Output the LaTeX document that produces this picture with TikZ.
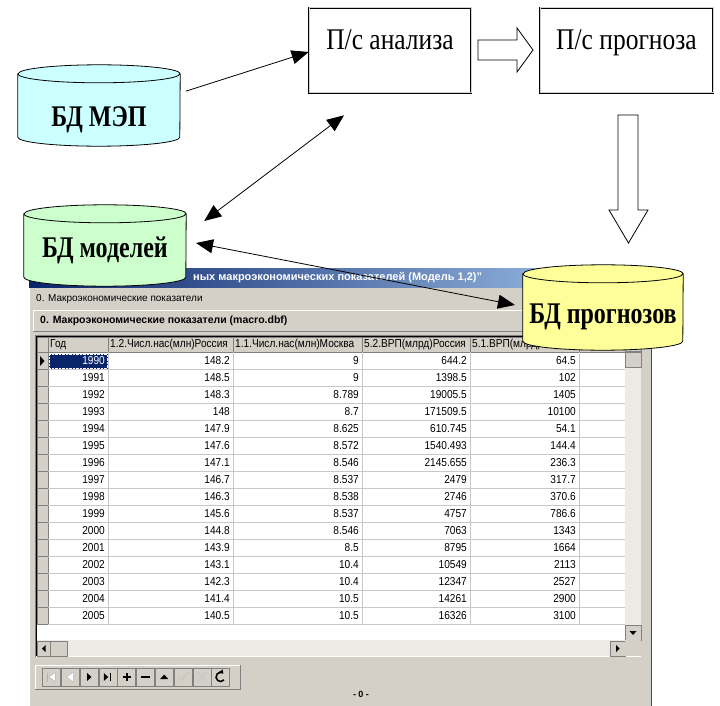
\documentclass[tikz,border=0pt]{standalone}
\usepackage{fontspec}
\setmainfont{Liberation Sans}
\newfontfamily\boxfont[FakeStretch=0.85]{Liberation Serif}
\newfontfamily\dbfont[FakeStretch=0.8]{Liberation Serif}
\newfontfamily\gridfont[FakeStretch=0.88]{Liberation Sans}
\usetikzlibrary{arrows.meta,calc}

\definecolor{wingray}{HTML}{D4D0C8}
\definecolor{winshadow}{HTML}{808080}
\definecolor{seldark}{HTML}{0A246A}
\definecolor{titlelight}{HTML}{A6CAF0}
\definecolor{gridline}{HTML}{C8C8C8}
\definecolor{trough}{HTML}{ECEAE5}
\definecolor{mepfill}{HTML}{CCFFFF}
\definecolor{modfill}{HTML}{CCFFCC}
\definecolor{progfill}{HTML}{FFFF99}

\pgfdeclarelayer{screen}
\pgfdeclarelayer{shapes}
\pgfsetlayers{screen,shapes,main}

% cylinder drawn behind node #1, half width #3
\newcommand\dbcyl[3]{%
  \begin{pgfonlayer}{shapes}
  \path[draw=black, line width=0.8pt, fill=#2]
    ([yshift=-9pt]#1.north west) -- ([yshift=9pt]#1.south west)
      arc[start angle=180, end angle=360, x radius=#3pt, y radius=9pt]
      -- ([yshift=-9pt]#1.north east)
      arc[start angle=0, end angle=180, x radius=#3pt, y radius=9pt] -- cycle
    ([yshift=-9pt]#1.north west)
      arc[start angle=180, end angle=360, x radius=#3pt, y radius=9pt];
  \end{pgfonlayer}}

\begin{document}
\begin{tikzpicture}
      [ x=1pt, y=-1pt
      , boxnode/.style={draw, line width=0.7pt, double=gray!35, double distance=1pt,
          minimum width=162pt, minimum height=85pt, inner sep=0pt,
          font=\boxfont\fontsize{30}{30}\selectfont, text height=24pt, text depth=25pt}
      , dbnode/.style={inner sep=0pt, text depth=0pt,
          font=\dbfont\bfseries\fontsize{30}{30}\selectfont}
      , link/.style={draw, line width=0.8pt, -{Triangle[length=17pt, width=14pt]}}
      , dlink/.style={draw, line width=0.8pt,
          {Triangle[length=17pt, width=14pt]}-{Triangle[length=17pt, width=14pt]}}
      , hollow/.style={draw, line width=0.8pt, fill=white}
      , raised/.style={fill=wingray, draw=winshadow, line width=0.5pt}
      , cell/.style={anchor=east, inner sep=0pt, font=\gridfont\fontsize{11.5}{12}\selectfont}
      , headcell/.style={anchor=west, inner sep=0pt, font=\gridfont\fontsize{11.5}{12}\selectfont}
      , tbtn/.style={raised, minimum width=18pt, minimum height=18pt, inner sep=0pt}
      ]
    \useasboundingbox (0,0) rectangle (720,706);

    \begin{pgfonlayer}{screen}
    \fill[white] (0,0) rectangle (720,706);
    % window
    \fill[wingray] (29,268) rectangle (651,706);
    \draw[black!70, line width=1pt] (651,268) -- (651,706);
    \draw[white] (29.5,287) -- (29.5,706);
    \shade[left color=seldark, right color=titlelight] (29,268) rectangle (651,287);
    \node[anchor=west, inner sep=0pt, text=white, font=\bfseries\fontsize{11}{12}\selectfont]
      (ttl) at (193,278) {ных макроэкономических показателей (Модель 1,2)"};
    \node[anchor=west, inner sep=0pt, font=\fontsize{10}{12}\selectfont]
      (sub) at (36,299) {0. Макроэкономические показатели};

    \fill[wingray] (33,310) rectangle (643,331);
    \draw[white] (33,331) -- (33,310) -- (643,310);
    \draw[winshadow] (33,331) -- (643,331) -- (643,310);
    \node[anchor=west, inner sep=0pt, font=\bfseries\fontsize{10.5}{12}\selectfont]
      (pan) at (40,320.5) {0. Макроэкономические показатели (macro.dbf)};

    % grid
    \fill[white] (35,335) rectangle (641,657);
    \draw[winshadow] (35,657) -- (35,335) -- (641,335);
    \draw[black] (36,656) -- (36,336) -- (640,336);
    \foreach \ga/\gb in {37/48,48/108,108/233,233/362,362/470,470/579,579/625}
      \draw[raised] (\ga,337) rectangle (\gb,352);
    \foreach \hx/\htxt [count=\k] in {50/Год,110/1.2.Числ.нас(млн)Россия,
        235/1.1.Числ.нас(млн)Москва,364/5.2.ВРП(млрд)Россия,472/5.1.ВРП(млрд)}
      \node[headcell] (h\k) at (\hx,344.5) {\htxt};
    \foreach \k in {0,...,15}
      \draw[raised] (37,352.5+17*\k) rectangle (48,369.5+17*\k);
    \foreach \k in {1,...,16}
      \draw[gridline] (48,352.5+17*\k) -- (625,352.5+17*\k);
    \foreach \gx in {108,233,362,470,579}
      \draw[gridline] (\gx,352) -- (\gx,624.5);
    \fill (40,356) -- (44.5,361) -- (40,366) -- cycle;
    \fill[seldark] (49,353.5) rectangle (107.5,369);
    \draw[white, densely dotted] (49.5,354) rectangle (107,368.5);

    \foreach \yr/\pa/\pb/\pc/\pd [count=\i from 0] in {
        1990/148.2/9/644.2/64.5, 1991/148.5/9/1398.5/102,
        1992/148.3/8.789/19005.5/1405, 1993/148/8.7/171509.5/10100,
        1994/147.9/8.625/610.745/54.1, 1995/147.6/8.572/1540.493/144.4,
        1996/147.1/8.546/2145.655/236.3, 1997/146.7/8.537/2479/317.7,
        1998/146.3/8.538/2746/370.6, 1999/145.6/8.537/4757/786.6,
        2000/144.8/8.546/7063/1343, 2001/143.9/8.5/8795/1664,
        2002/143.1/10.4/10549/2113, 2003/142.3/10.4/12347/2527,
        2004/141.4/10.5/14261/2900, 2005/140.5/10.5/16326/3100}
    {
      \node[cell] (yr\i) at (105,361+17*\i) {\ifnum\i=0 \color{white}\fi\yr};
      \node[cell] (pa\i) at (230,361+17*\i) {\pa};
      \node[cell] (pb\i) at (359,361+17*\i) {\pb};
      \node[cell] (pc\i) at (467,361+17*\i) {\pc};
      \node[cell] (pd\i) at (576,361+17*\i) {\pd};
    }

    % scroll bars
    \fill[trough] (625,337) rectangle (641,640);
    \draw[raised] (625,337) rectangle (641,351);
    \draw[raised] (625,352) rectangle (641,367);
    \draw[raised] (625,625) rectangle (641,640);
    \fill (629.5,631) -- (636.5,631) -- (633,635) -- cycle;
    \fill[trough] (37,640) rectangle (625,656);
    \draw[raised] (37,641) rectangle (50,656);
    \fill (45.5,645) -- (45.5,652) -- (42,648.5) -- cycle;
    \draw[raised] (50,641) rectangle (67,656);
    \draw[raised] (610,641) rectangle (625,656);
    \fill (616,645) -- (616,652) -- (619.5,648.5) -- cycle;
    \fill[wingray] (625,640) rectangle (641,656);

    % navigator
    \fill[wingray] (35,665) rectangle (240,689);
    \draw[white] (35,689) -- (35,665) -- (240,665);
    \draw[winshadow] (35,689) -- (240,689) -- (240,665);
    \foreach \i in {1,...,10}
      \node[tbtn] (b\i) at ({42+18.8*(\i-0.5)},677) {};
    \draw[gray!60, line width=1pt] ([shift={(-4,-4.5)}]b1.center) -- ([shift={(-4,4.5)}]b1.center);
    \draw[gray!60, fill=white] ([shift={(4,-4.5)}]b1.center) -- ([shift={(-2.5,0)}]b1.center)
      -- ([shift={(4,4.5)}]b1.center) -- cycle;
    \draw[gray!60, fill=white] ([shift={(3,-5)}]b2.center) -- ([shift={(-3.5,0)}]b2.center)
      -- ([shift={(3,5)}]b2.center) -- cycle;
    \fill ([shift={(-2,-4)}]b3.center) -- ([shift={(2.5,0)}]b3.center) -- ([shift={(-2,4)}]b3.center) -- cycle;
    \fill ([shift={(-4,-4)}]b4.center) -- ([shift={(0.5,0)}]b4.center) -- ([shift={(-4,4)}]b4.center) -- cycle;
    \draw[line width=1.5pt] ([shift={(2.5,-4)}]b4.center) -- ([shift={(2.5,4)}]b4.center);
    \draw[line width=2pt] ([shift={(-4,0)}]b5.center) -- ([shift={(4,0)}]b5.center)
      ([shift={(0,-4)}]b5.center) -- ([shift={(0,4)}]b5.center);
    \draw[line width=2pt] ([shift={(-4.5,0)}]b6.center) -- ([shift={(4.5,0)}]b6.center);
    \fill ([shift={(-4,2)}]b7.center) -- ([shift={(0,-2.5)}]b7.center) -- ([shift={(4,2)}]b7.center) -- cycle;
    \draw[gray!45, line width=1pt] ([shift={(-5,0)}]b8.center) -- ([shift={(-2,4)}]b8.center)
      -- ([shift={(5,-5)}]b8.center);
    \draw[gray!45, line width=1pt] ([shift={(-4,-5)}]b9.center) -- ([shift={(4,5)}]b9.center)
      ([shift={(4,-5)}]b9.center) -- ([shift={(-4,5)}]b9.center);
    \draw[line width=1.6pt, -{Triangle[length=3.5pt, width=5pt]}] ([shift={(3.4,2.9)}]b10.center)
      arc[start angle=-40, end angle=-310, radius=4.5pt];
    \node[inner sep=0pt, font=\bfseries\fontsize{9}{10}\selectfont] (pg) at (361,694) {- 0 -};
    \end{pgfonlayer}

    % diagram
    \node[boxnode] (an) at (390,50.5) {П/с анализа};
    \node[boxnode, minimum width=173pt] (pr) at (626.5,50.5) {П/с прогноза};

    \node[dbnode, minimum width=162pt, minimum height=81pt, text height=43pt]
      (mep) at (99,105.5) {БД МЭП\hspace{16pt}};
    \node[dbnode, minimum width=162pt, minimum height=81pt, text height=23pt]
      (mod) at (105,245.5) {БД моделей};
    \node[dbnode, minimum width=160pt, minimum height=85pt, text height=31pt]
      (prog) at (603,307.5) {БД прогнозов};
    \dbcyl{mep}{mepfill}{81}
    \dbcyl{mod}{modfill}{81}
    \dbcyl{prog}{progfill}{80}

    \draw[hollow] (478,40) -- (517,40) -- (517,28) -- (533,50) -- (517,72) -- (517,60) -- (478,60) -- cycle;
    \draw[hollow] (618,115) -- (638,115) -- (638,210) -- (648,210) -- (628.5,243) -- (609,210) -- (618,210) -- cycle;

    \draw[link, shorten <=6pt] ([yshift=12.5pt]mep.east) -- ([yshift=-1.5pt]an.west);
    \draw[dlink, shorten <=22.6pt, shorten >=36.4pt] ([yshift=10.9pt]mod.east) -- ([xshift=-17pt]an.south);
    \draw[dlink, shorten <=10pt, shorten >=8pt] ([yshift=4.4pt]mod.east) -- ([yshift=1pt]prog.west);

  \end{tikzpicture}
\end{document}
